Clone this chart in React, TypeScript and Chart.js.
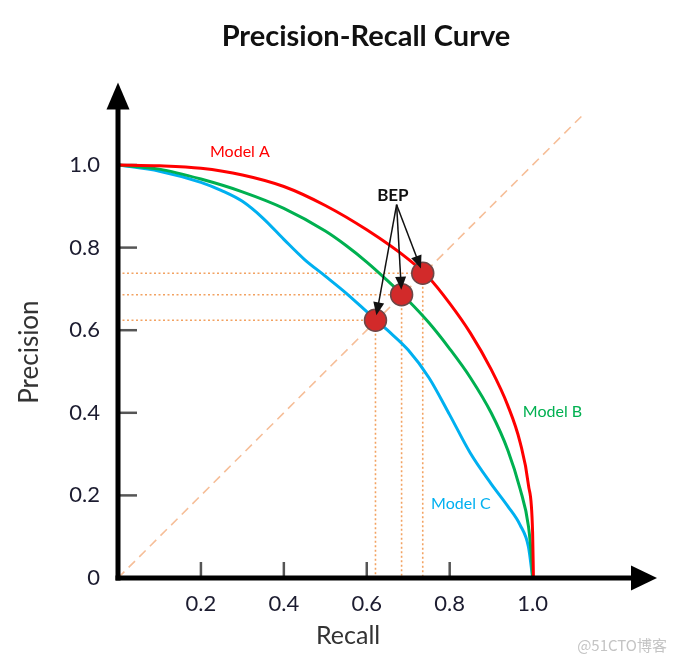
import React, { useEffect, useRef } from "react";
import { Chart, registerables } from "chart.js";

Chart.register(...registerables);

// ---- data ----
const recallA = [0, 0.1, 0.2, 0.3, 0.4, 0.5, 0.6, 0.7, 0.75, 0.8, 0.85, 0.9, 0.94, 0.97, 0.99, 1.0, 1.002];
const precisionA = [1.0, 0.998, 0.992, 0.976, 0.948, 0.902, 0.843, 0.772, 0.727, 0.665, 0.593, 0.505, 0.418, 0.328, 0.225, 0.11, 0];

const recallB = [0, 0.1, 0.2, 0.3, 0.4, 0.5, 0.55, 0.6, 0.65, 0.7, 0.75, 0.8, 0.85, 0.9, 0.94, 0.97, 0.99, 0.998, 1.0];
const precisionB = [1.0, 0.99, 0.966, 0.935, 0.895, 0.84, 0.805, 0.765, 0.72, 0.672, 0.618, 0.555, 0.485, 0.4, 0.31, 0.215, 0.125, 0.04, 0];

const recallC = [0, 0.1, 0.2, 0.25, 0.3, 0.35, 0.4, 0.45, 0.5, 0.55, 0.6, 0.65, 0.7, 0.75, 0.8, 0.85, 0.9, 0.94, 0.97, 0.99, 1.0];
const precisionC = [1.0, 0.985, 0.958, 0.938, 0.912, 0.871, 0.82, 0.771, 0.731, 0.69, 0.645, 0.6, 0.552, 0.485, 0.395, 0.302, 0.228, 0.174, 0.128, 0.075, 0];

const modelNames = ["Model A", "Model B", "Model C"];
const modelColors = ["#ff0000", "#00b050", "#00b0f0"];
// label anchor positions (recall, precision)
const labelRecall = [0.294, 1.048, 0.827];
const labelPrecision = [1.031, 0.402, 0.179];

// break-even points (C, B, A)
const bepRecall = [0.621, 0.684, 0.735];
const bepPrecision = [0.624, 0.686, 0.738];
const bepText = "BEP";
const bepTextPos = [0.663, 0.927];
const bepArrowStart = [0.672, 0.904];

const diagonalRecall = [0, 1.12];
const diagonalPrecision = [0, 1.12];

const xTickValues = [0.2, 0.4, 0.6, 0.8, 1.0];
const yTickValues = [0, 0.2, 0.4, 0.6, 0.8, 1.0];

const titleText = "Precision-Recall Curve";
const xTitle = "Recall";
const yTitle = "Precision";
const watermark = "@51CTO博客";

const pts = (xs: number[], ys: number[]) => xs.map((x, i) => ({ x, y: ys[i] }));

function head(ctx: CanvasRenderingContext2D, tx: number, ty: number, ang: number, len: number, half: number) {
  const c = Math.cos(ang), s = Math.sin(ang);
  ctx.beginPath();
  ctx.moveTo(tx, ty);
  ctx.lineTo(tx - len * c + half * s, ty - len * s - half * c);
  ctx.lineTo(tx - len * c - half * s, ty - len * s + half * c);
  ctx.closePath();
  ctx.fill();
}

const decor = {
  id: "decor",
  beforeDatasetsDraw(chart: any) {
    const { ctx, scales } = chart;
    const x = scales.x, y = scales.y;
    const x0 = x.getPixelForValue(0), y0 = y.getPixelForValue(0);
    ctx.save();
    ctx.strokeStyle = "#555555";
    ctx.lineWidth = 2.5;
    xTickValues.forEach((v) => {
      const px = x.getPixelForValue(v);
      ctx.beginPath();
      ctx.moveTo(px, y0);
      ctx.lineTo(px, y0 - 16);
      ctx.stroke();
    });
    yTickValues.filter((v) => v > 0).forEach((v) => {
      const py = y.getPixelForValue(v);
      ctx.beginPath();
      ctx.moveTo(x0, py);
      ctx.lineTo(x0 + 19, py);
      ctx.stroke();
    });
    ctx.restore();
  },
  afterDatasetsDraw(chart: any) {
    const { ctx, scales, chartArea } = chart;
    const x = scales.x, y = scales.y;
    const x0 = x.getPixelForValue(0), y0 = y.getPixelForValue(0);
    ctx.save();
    // title
    ctx.fillStyle = "#111";
    ctx.font = "bold 29px Lato";
    ctx.textAlign = "center";
    ctx.textBaseline = "middle";
    ctx.fillText(titleText, 366, 37);

    // axes
    ctx.strokeStyle = "#000";
    ctx.fillStyle = "#000";
    ctx.lineWidth = 5;
    ctx.lineCap = "butt";
    ctx.beginPath();
    ctx.moveTo(x0, y0 + 2.5);
    ctx.lineTo(x0, chartArea.top + 20);
    ctx.stroke();
    ctx.beginPath();
    ctx.moveTo(x0 - 2.5, y0);
    ctx.lineTo(chartArea.right - 20, y0);
    ctx.stroke();
    head(ctx, x0, chartArea.top, -Math.PI / 2, 27, 11.5);
    head(ctx, chartArea.right, y0, 0, 26, 12.5);

    // model labels
    ctx.font = "16px Lato";
    modelNames.forEach((n, i) => {
      ctx.fillStyle = modelColors[i];
      ctx.fillText(n, x.getPixelForValue(labelRecall[i]), y.getPixelForValue(labelPrecision[i]));
    });

    // BEP annotation
    ctx.fillStyle = "#111";
    ctx.font = "bold 17px Lato";
    ctx.fillText(bepText, x.getPixelForValue(bepTextPos[0]), y.getPixelForValue(bepTextPos[1]));
    const sx = x.getPixelForValue(bepArrowStart[0]), sy = y.getPixelForValue(bepArrowStart[1]);
    ctx.strokeStyle = "#111";
    ctx.lineWidth = 1.5;
    bepRecall.forEach((r, i) => {
      const px = x.getPixelForValue(r), py = y.getPixelForValue(bepPrecision[i]);
      const ang = Math.atan2(py - sy, px - sx);
      const tx = px - 5 * Math.cos(ang), ty = py - 5 * Math.sin(ang);
      ctx.beginPath();
      ctx.moveTo(sx, sy);
      ctx.lineTo(tx - 10 * Math.cos(ang), ty - 10 * Math.sin(ang));
      ctx.stroke();
      head(ctx, tx, ty, ang, 13, 5.5);
    });

    // axis titles
    ctx.fillStyle = "#333";
    ctx.font = "25px Lato";
    ctx.fillText(xTitle, x.getPixelForValue(0.555), 636);
    ctx.save();
    ctx.translate(30, y.getPixelForValue(0.547));
    ctx.rotate(-Math.PI / 2);
    ctx.font = "26px Lato";
    ctx.fillText(yTitle, 0, 0);
    ctx.restore();

    // watermark
    ctx.fillStyle = "#c4c4c4";
    ctx.font = '15px "Noto Sans CJK SC"';
    ctx.textAlign = "right";
    ctx.fillText(watermark, 667, 645);
    ctx.restore();
  },
};

export default function App() {
  const ref = useRef<HTMLCanvasElement>(null);
  useEffect(() => {
    if (!ref.current) return;
    const guides: any[] = [];
    bepRecall.forEach((r, i) => {
      const p = bepPrecision[i];
      guides.push({ data: [{ x: 0, y: p }, { x: r, y: p }] });
      guides.push({ data: [{ x: r, y: p }, { x: r, y: 0 }] });
    });
    const chart = new Chart(ref.current, {
      type: "scatter",
      data: {
        datasets: [
          {
            data: pts(bepRecall, bepPrecision),
            pointRadius: 11,
            pointBackgroundColor: "#d22a2a",
            pointBorderColor: "#6e4646",
            pointBorderWidth: 1.5,
            showLine: false,
          },
          ...[
            [recallA, precisionA],
            [recallB, precisionB],
            [recallC, precisionC],
          ].map(([xs, ys], i) => ({
            data: pts(xs, ys),
            showLine: true,
            borderColor: modelColors[i],
            borderWidth: 3,
            pointRadius: 0,
            cubicInterpolationMode: "monotone",
          })),
          {
            data: pts(diagonalRecall, diagonalPrecision),
            showLine: true,
            borderColor: "#f6be98",
            borderWidth: 1.6,
            borderDash: [9, 6],
            pointRadius: 0,
          },
          ...guides.map((g) => ({
            ...g,
            showLine: true,
            borderColor: "#f2a262",
            borderWidth: 1.6,
            borderDash: [2, 2.5],
            pointRadius: 0,
          })),
        ] as any,
      },
      options: {
        animation: false,
        responsive: false,
        devicePixelRatio: 1,
        layout: { padding: { left: 56, right: 19, top: 82.4, bottom: 0 } },
        plugins: {
          legend: { display: false },
          tooltip: { enabled: false },
          title: { display: false },
        },
        scales: {
          x: {
            type: "linear",
            min: 0,
            max: 1.3,
            grid: { display: false, drawTicks: false },
            border: { display: false },
            afterBuildTicks: (s: any) => {
              s.ticks = xTickValues.map((v) => ({ value: v }));
            },
            afterFit: (s: any) => {
              s.height = 85;
            },
            ticks: {
              autoSkip: false,
              maxRotation: 0,
              padding: 13,
              color: "#1c1c30",
              font: { family: "Lato", size: 22 },
              callback: (v: any) => Number(v).toFixed(1),
            },
          },
          y: {
            type: "linear",
            min: 0,
            max: 1.2,
            grid: { display: false, drawTicks: false },
            border: { display: false },
            afterBuildTicks: (s: any) => {
              s.ticks = yTickValues.map((v) => ({ value: v }));
            },
            afterFit: (s: any) => {
              s.width = 62;
            },
            ticks: {
              autoSkip: false,
              padding: 18,
              color: "#1c1c30",
              font: { family: "Lato", size: 22 },
              callback: (v: any) => (Number(v) === 0 ? "0" : Number(v).toFixed(1)),
            },
          },
        },
      } as any,
      plugins: [decor],
    });
    return () => chart.destroy();
  }, []);
  return (
    <div style={{ position: "absolute", left: 0, top: 0, width: 676, height: 663, background: "#fff" }}>
      <canvas ref={ref} width={676} height={663} />
    </div>
  );
}
